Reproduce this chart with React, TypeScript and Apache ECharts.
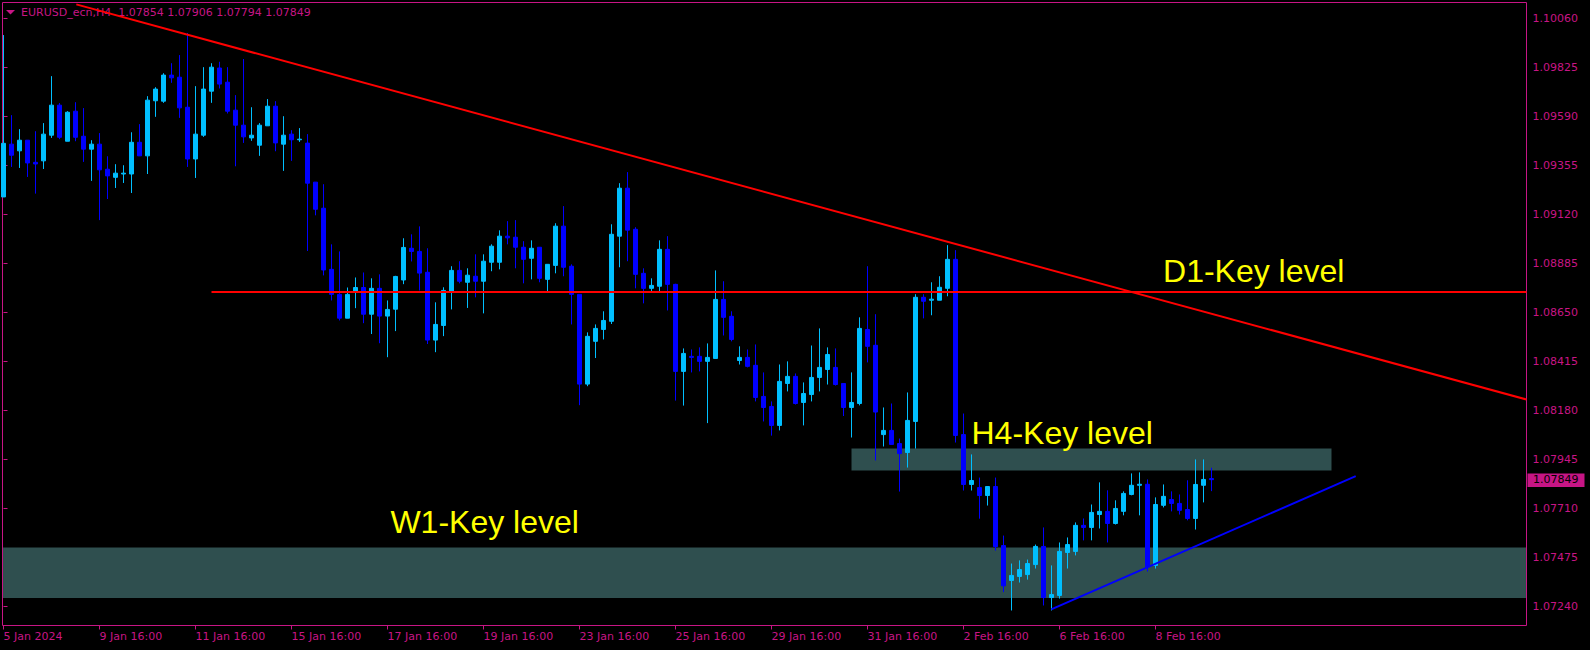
import { useEffect, useRef } from 'react';
import * as echarts from 'echarts';

// ---- candle data (EURUSD H4), index 0 = 5 Jan 2024 16:00 ----
const opens = [
  1.09204, 1.09457, 1.09425, 1.09476, 1.09370, 1.09377, 1.09500, 1.09644, 1.09471, 1.09615,
  1.09495, 1.09433, 1.09457, 1.09337, 1.09298, 1.09314, 1.09314, 1.09466, 1.09401, 1.09665,
  1.09663, 1.09788, 1.09778, 1.09634, 1.09386, 1.09500, 1.09711, 1.09822, 1.09754, 1.09620,
  1.09548, 1.09487, 1.09452, 1.09545, 1.09639, 1.09457, 1.09505, 1.09478, 1.09462, 1.09275,
  1.09150, 1.08857, 1.08737, 1.08623, 1.08748, 1.08770, 1.08642, 1.08766, 1.08633, 1.08666,
  1.08806, 1.08958, 1.08943, 1.08843, 1.08518, 1.08588, 1.08747, 1.08852, 1.08795, 1.08824,
  1.08800, 1.08891, 1.08891, 1.09016, 1.09011, 1.08963, 1.08910, 1.08963, 1.08809, 1.08876,
  1.09064, 1.08872, 1.08737, 1.08307, 1.08512, 1.08569, 1.08608, 1.09016, 1.09246, 1.09049,
  1.08838, 1.08766, 1.08776, 1.08953, 1.08785, 1.08368, 1.08440, 1.08440, 1.08416, 1.08430,
  1.08713, 1.08632, 1.08420, 1.08435, 1.08397, 1.08248, 1.08200, 1.08109, 1.08310, 1.08344,
  1.08219, 1.08257, 1.08339, 1.08377, 1.08387, 1.08310, 1.08195, 1.08214, 1.08569, 1.08493,
  1.08065, 1.08085, 1.08022, 1.07979, 1.08128, 1.08723, 1.08709, 1.08709, 1.08766, 1.08905,
  1.08065, 1.07826, 1.07811, 1.07773, 1.07816, 1.07533, 1.07366, 1.07385, 1.07394, 1.07442,
  1.07529, 1.07284, 1.07294, 1.07500, 1.07505, 1.07630, 1.07620, 1.07682, 1.07697, 1.07639,
  1.07697, 1.07778, 1.07822, 1.07827, 1.07438, 1.07726, 1.07754, 1.07735, 1.07706, 1.07663,
  1.07822, 1.07854,
];
const highs = [
  1.09980, 1.09596, 1.09529, 1.09476, 1.09519, 1.09558, 1.09783, 1.09654, 1.09615, 1.09658,
  1.09630, 1.09476, 1.09510, 1.09399, 1.09361, 1.09356, 1.09514, 1.09553, 1.09687, 1.09730,
  1.09797, 1.09845, 1.09884, 1.09990, 1.09735, 1.09826, 1.09845, 1.09852, 1.09826, 1.09692,
  1.09865, 1.09634, 1.09558, 1.09673, 1.09663, 1.09591, 1.09524, 1.09534, 1.09505, 1.09275,
  1.09265, 1.08977, 1.08943, 1.08770, 1.08818, 1.08842, 1.08814, 1.08833, 1.08708, 1.08826,
  1.09006, 1.09025, 1.09063, 1.08958, 1.08699, 1.08771, 1.08872, 1.08896, 1.08862, 1.08929,
  1.08929, 1.08977, 1.09044, 1.09088, 1.09093, 1.08992, 1.08996, 1.08963, 1.08881, 1.09078,
  1.09160, 1.08881, 1.08737, 1.08555, 1.08593, 1.08656, 1.09073, 1.09270, 1.09323, 1.09059,
  1.08862, 1.08814, 1.08996, 1.09016, 1.08788, 1.08478, 1.08473, 1.08483, 1.08502, 1.08852,
  1.08800, 1.08656, 1.08488, 1.08473, 1.08497, 1.08363, 1.08224, 1.08401, 1.08416, 1.08358,
  1.08315, 1.08492, 1.08574, 1.08483, 1.08478, 1.08310, 1.08363, 1.08627, 1.08872, 1.08642,
  1.08195, 1.08214, 1.08046, 1.08267, 1.08738, 1.08738, 1.08795, 1.08824, 1.08973, 1.08949,
  1.08166, 1.07970, 1.07859, 1.07816, 1.07859, 1.07581, 1.07447, 1.07462, 1.07466, 1.07538,
  1.07620, 1.07438, 1.07548, 1.07572, 1.07644, 1.07663, 1.07730, 1.07836, 1.07798, 1.07750,
  1.07793, 1.07879, 1.07884, 1.07850, 1.07764, 1.07826, 1.07793, 1.07778, 1.07846, 1.07946,
  1.07946, 1.07906,
];
const lows = [
  1.09204, 1.09348, 1.09343, 1.09300, 1.09220, 1.09338, 1.09487, 1.09481, 1.09471, 1.09471,
  1.09372, 1.09281, 1.09093, 1.09194, 1.09247, 1.09271, 1.09223, 1.09401, 1.09314, 1.09588,
  1.09655, 1.09751, 1.09583, 1.09348, 1.09295, 1.09492, 1.09655, 1.09724, 1.09604, 1.09351,
  1.09463, 1.09473, 1.09401, 1.09545, 1.09423, 1.09329, 1.09377, 1.09468, 1.08945, 1.09116,
  1.08828, 1.08708, 1.08612, 1.08623, 1.08671, 1.08599, 1.08547, 1.08503, 1.08436, 1.08561,
  1.08786, 1.08895, 1.08756, 1.08499, 1.08460, 1.08537, 1.08665, 1.08790, 1.08672, 1.08723,
  1.08646, 1.08848, 1.08857, 1.08977, 1.08862, 1.08790, 1.08809, 1.08795, 1.08747, 1.08838,
  1.08824, 1.08593, 1.08206, 1.08297, 1.08432, 1.08521, 1.08595, 1.08867, 1.08896, 1.08766,
  1.08694, 1.08747, 1.08747, 1.08660, 1.08228, 1.08204, 1.08363, 1.08368, 1.08120, 1.08430,
  1.08540, 1.08512, 1.08401, 1.08387, 1.08224, 1.08128, 1.08060, 1.08085, 1.08272, 1.08209,
  1.08109, 1.08224, 1.08272, 1.08305, 1.08300, 1.08154, 1.08051, 1.08205, 1.08411, 1.07941,
  1.08008, 1.08018, 1.07792, 1.07907, 1.07998, 1.08622, 1.08637, 1.08709, 1.08728, 1.08027,
  1.07797, 1.07797, 1.07662, 1.07725, 1.07509, 1.07310, 1.07222, 1.07356, 1.07370, 1.07423,
  1.07246, 1.07222, 1.07279, 1.07423, 1.07486, 1.07558, 1.07558, 1.07615, 1.07548, 1.07634,
  1.07678, 1.07774, 1.07678, 1.07409, 1.07423, 1.07716, 1.07697, 1.07682, 1.07654, 1.07610,
  1.07740, 1.07794,
];
const closes = [
  1.09461, 1.09404, 1.09476, 1.09367, 1.09362, 1.09505, 1.09644, 1.09490, 1.09610, 1.09490,
  1.09433, 1.09457, 1.09334, 1.09305, 1.09318, 1.09318, 1.09466, 1.09401, 1.09668, 1.09721,
  1.09788, 1.09775, 1.09631, 1.09386, 1.09505, 1.09721, 1.09826, 1.09745, 1.09615, 1.09548,
  1.09492, 1.09500, 1.09548, 1.09639, 1.09463, 1.09500, 1.09478, 1.09481, 1.09270, 1.09145,
  1.08854, 1.08737, 1.08623, 1.08737, 1.08770, 1.08642, 1.08766, 1.08633, 1.08665, 1.08823,
  1.08962, 1.08943, 1.08839, 1.08518, 1.08593, 1.08756, 1.08852, 1.08800, 1.08829, 1.08800,
  1.08896, 1.08968, 1.09016, 1.09008, 1.08963, 1.08905, 1.08958, 1.08814, 1.08881, 1.09064,
  1.08867, 1.08737, 1.08307, 1.08536, 1.08574, 1.08612, 1.09025, 1.09246, 1.09045, 1.08833,
  1.08766, 1.08780, 1.08953, 1.08785, 1.08368, 1.08454, 1.08435, 1.08416, 1.08435, 1.08713,
  1.08627, 1.08521, 1.08435, 1.08392, 1.08243, 1.08195, 1.08109, 1.08320, 1.08344, 1.08214,
  1.08262, 1.08339, 1.08387, 1.08449, 1.08305, 1.08195, 1.08219, 1.08574, 1.08488, 1.08173,
  1.08085, 1.08018, 1.07974, 1.08133, 1.08723, 1.08704, 1.08714, 1.08771, 1.08905, 1.08061,
  1.07826, 1.07845, 1.07773, 1.07816, 1.07528, 1.07340, 1.07390, 1.07418, 1.07447, 1.07529,
  1.07284, 1.07298, 1.07505, 1.07538, 1.07630, 1.07620, 1.07692, 1.07697, 1.07639, 1.07711,
  1.07783, 1.07822, 1.07827, 1.07433, 1.07730, 1.07769, 1.07735, 1.07702, 1.07663, 1.07826,
  1.07850, 1.07849,
];

// ---- axes ----
const xTickIndex = [0, 12, 24, 36, 48, 60, 72, 84, 96, 108, 120, 132, 144];
const xTickLabels = [
  '5 Jan 2024', '9 Jan 16:00', '11 Jan 16:00', '15 Jan 16:00', '17 Jan 16:00', '19 Jan 16:00',
  '23 Jan 16:00', '25 Jan 16:00', '29 Jan 16:00', '31 Jan 16:00', '2 Feb 16:00', '6 Feb 16:00', '8 Feb 16:00',
];
const yTicks = [
  1.0724, 1.07475, 1.0771, 1.07945, 1.0818, 1.08415, 1.0865, 1.08885, 1.0912, 1.09355, 1.0959, 1.09825, 1.1006,
];
const X_MIN = -0.125;
const X_MAX = 190.375;
const Y_MIN = 1.0715;
const Y_MAX = 1.10136;

// ---- annotations (data space: [bar index, price]) ----
const zones = [
  { name: 'H4', from: [106, 1.07998], to: [166, 1.07893] },
  { name: 'W1', from: [-0.06, 1.07524], to: [190.31, 1.07282] },
];
const trendLines = [
  { from: [9.1, 1.10127], to: [190.375, 1.08233], color: '#FF0000' },
  { from: [26, 1.08748], to: [190.375, 1.08748], color: '#FF0000' },
  { from: [130.97, 1.07227], to: [169.03, 1.07866], color: '#0000FF' },
];
const keyLabels = [
  { text: 'D1-Key level', at: [144.94, 1.08851] },
  { text: 'H4-Key level', at: [121.0, 1.08071] },
  { text: 'W1-Key level', at: [48.36, 1.07644] },
];
const symbolTitle = 'EURUSD_ecn,H4';
const lastPrice = closes[closes.length - 1];

const AXIS_COLOR = '#C71585';
const BULL = '#00BFFF';
const BEAR = '#0000FF';
const SMALL_FONT = '"DejaVu Sans", sans-serif';

export default function App() {
  const ref = useRef<HTMLDivElement>(null);

  useEffect(() => {
    document.body.style.margin = '0';
    const chart = echarts.init(ref.current!, null, { renderer: 'svg', width: 1590, height: 650 });

    const candleData = opens.map((o, i) => [i, o, closes[i], lows[i], highs[i]]);

    chart.setOption({
      animation: false,
      backgroundColor: '#000000',
      grid: {
        left: 2.5,
        top: 2.5,
        width: 1524,
        height: 623,
        show: true,
        borderColor: AXIS_COLOR,
        borderWidth: 1,
        backgroundColor: 'transparent',
      },
      xAxis: {
        type: 'value',
        min: X_MIN,
        max: X_MAX,
        axisLine: { show: false },
        splitLine: { show: false },
        axisTick: {
          show: true,
          customValues: xTickIndex,
          length: 4,
          lineStyle: { color: AXIS_COLOR, width: 1 },
        },
        axisLabel: {
          customValues: xTickIndex,
          formatter: (v: number) => {
            const k = xTickIndex.indexOf(Math.round(v));
            return k >= 0 ? xTickLabels[k] : '';
          },
          align: 'left',
          color: AXIS_COLOR,
          fontFamily: SMALL_FONT,
          fontSize: 11,
          margin: 5,
        },
      },
      yAxis: {
        type: 'value',
        position: 'right',
        min: Y_MIN,
        max: Y_MAX,
        axisLine: { show: false },
        splitLine: { show: false },
        axisTick: {
          show: true,
          customValues: yTicks,
          length: 4,
          lineStyle: { color: AXIS_COLOR, width: 1 },
        },
        axisLabel: {
          customValues: yTicks,
          formatter: (v: number) => v.toFixed(5),
          color: AXIS_COLOR,
          fontFamily: SMALL_FONT,
          fontSize: 11,
          margin: 6,
        },
      },
      series: [
        {
          type: 'line',
          data: [],
          z: 1,
          silent: true,
          markArea: {
            silent: true,
            itemStyle: { color: '#2F4F4F', opacity: 1 },
            label: { show: false },
            data: zones.map((zn) => [{ coord: zn.from }, { coord: zn.to }]),
          },
        },
        {
          type: 'candlestick',
          z: 3,
          silent: true,
          barWidth: 4,
          data: candleData,
          itemStyle: {
            color: BULL,
            color0: BEAR,
            borderColor: BULL,
            borderColor0: BEAR,
            borderColorDoji: BULL,
            borderWidth: 1,
          },
        },
        {
          type: 'line',
          data: [],
          z: 5,
          silent: true,
          markLine: {
            silent: true,
            symbol: ['none', 'none'],
            label: { show: false },
            data: trendLines.map((l) => [
              { coord: l.from, lineStyle: { color: l.color, width: 2, type: 'solid' } },
              { coord: l.to },
            ]),
          },
        },
      ],
    });

    const px = (p: number[]) => chart.convertToPixel({ gridIndex: 0 }, p) as number[];
    const pricePx = px([0, lastPrice])[1];

    const graphics: any[] = [
      {
        type: 'polygon',
        z: 0,
        silent: true,
        shape: { points: [[6, 10], [15, 10], [10.5, 14.5]] },
        style: { fill: AXIS_COLOR },
      },
      {
        type: 'text',
        z: 0,
        silent: true,
        x: 21,
        y: 12,
        style: {
          text: `${symbolTitle}  ${opens[opens.length - 1].toFixed(5)} ${highs[highs.length - 1].toFixed(5)} ${lows[lows.length - 1].toFixed(5)} ${lastPrice.toFixed(5)}`,
          fill: AXIS_COLOR,
          font: `11px ${SMALL_FONT}`,
          align: 'left',
          verticalAlign: 'middle',
        },
      },
      {
        type: 'rect',
        z: 10,
        silent: true,
        shape: { x: 1527.5, y: Math.round(pricePx) - 6.5, width: 57, height: 13.5 },
        style: { fill: AXIS_COLOR },
      },
      {
        type: 'text',
        z: 11,
        silent: true,
        x: 1533,
        y: pricePx,
        style: {
          text: lastPrice.toFixed(5),
          fill: '#000000',
          font: `11px ${SMALL_FONT}`,
          align: 'left',
          verticalAlign: 'middle',
        },
      },
    ];
    keyLabels.forEach((k) => {
      const p = px(k.at);
      graphics.push({
        type: 'text',
        z: 10,
        silent: true,
        x: p[0],
        y: p[1],
        style: {
          text: k.text,
          fill: '#FFFF00',
          font: '32px "Liberation Sans", Arial, sans-serif',
          align: 'left',
          verticalAlign: 'middle',
        },
      });
    });
    chart.setOption({ graphic: graphics });

    return () => chart.dispose();
  }, []);

  return <div ref={ref} style={{ width: 1590, height: 650, background: '#000' }} />;
}
